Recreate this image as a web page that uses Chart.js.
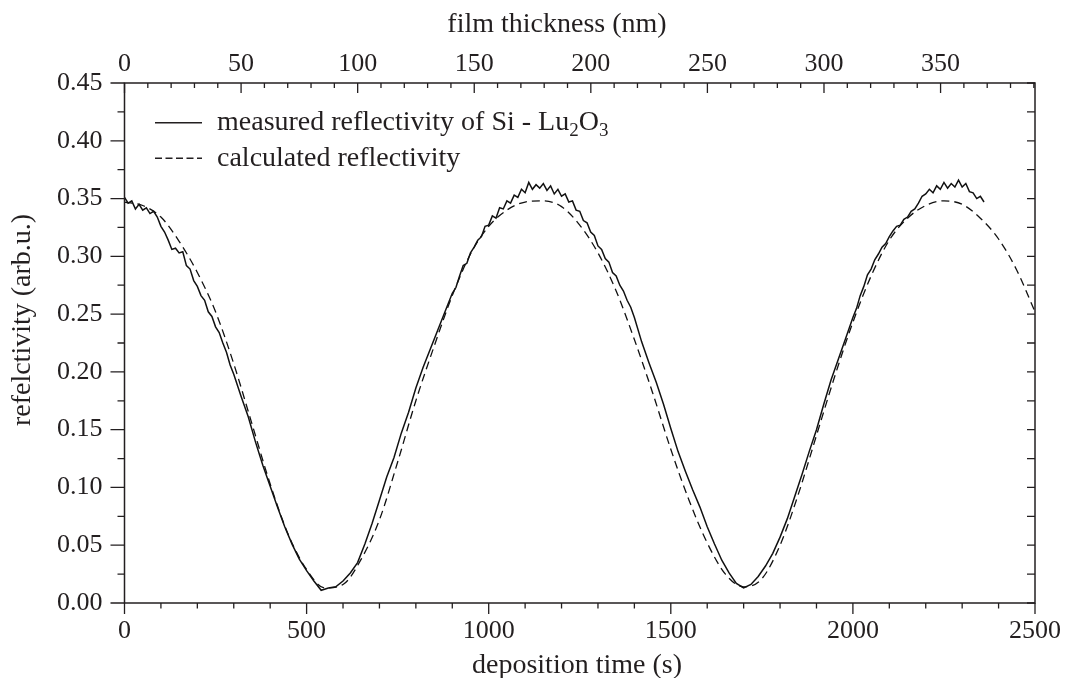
<!DOCTYPE html>
<html>
<head>
<meta charset="utf-8">
<script src="https://cdn.jsdelivr.net/npm/chart.js@4.4.0/dist/chart.umd.min.js"></script>
<style>
html, body { margin: 0; padding: 0; background: #fff; }
#wrap { width: 1069px; height: 678px; }
</style>
</head>
<body>
<div id="wrap"><canvas id="reflChart" width="1069" height="678"></canvas></div>
<script>
// measured reflectivity (deposition time in s) - finer steps where the signal is noisy
const timeMeasured = [
    0, 10, 20, 30, 40, 50, 60, 70, 80, 90, 100, 110, 120, 130, 140, 150, 160, 170, 180, 190,
    200, 210, 220, 230, 240, 250, 260, 270, 280, 290, 300,
    320, 340, 360, 380, 400, 420, 440, 460, 480, 500, 520, 540, 560, 580, 600, 620, 640, 660, 680,
    700, 720, 740, 760, 780, 800, 820, 840, 860, 880,
    900, 910, 920, 930, 940, 950, 960, 970, 980, 990, 1000, 1010, 1020, 1030, 1040, 1050, 1060, 1070, 1080, 1090,
    1100, 1110, 1120, 1130, 1140, 1150, 1160, 1170, 1180, 1190, 1200, 1210, 1220, 1230, 1240, 1250, 1260, 1270, 1280, 1290,
    1300, 1310, 1320, 1330, 1340, 1350, 1360, 1370, 1380, 1390, 1400,
    1420, 1440, 1460, 1480, 1500, 1520, 1540, 1560, 1580, 1600, 1620, 1640, 1660, 1680, 1700, 1720, 1740, 1760, 1780,
    1800, 1820, 1840, 1860, 1880, 1900, 1920, 1940, 1960, 1980,
    2000, 2010, 2020, 2030, 2040, 2050, 2060, 2070, 2080, 2090, 2100, 2110, 2120, 2130, 2140, 2150, 2160, 2170, 2180, 2190,
    2200, 2210, 2220, 2230, 2240, 2250, 2260, 2270, 2280, 2290, 2300, 2310, 2320, 2330, 2340, 2350, 2360];
const reflMeasured = [
    0.351, 0.346, 0.348, 0.341, 0.345, 0.340, 0.342, 0.337, 0.339, 0.334, 0.326, 0.321, 0.314, 0.306, 0.307, 0.303, 0.304, 0.292, 0.289, 0.279,
    0.274, 0.266, 0.262, 0.252, 0.248, 0.239, 0.234, 0.225, 0.217, 0.206, 0.198,
    0.179, 0.161, 0.139, 0.119, 0.101, 0.083, 0.066, 0.051, 0.038, 0.028, 0.019, 0.011, 0.013, 0.014, 0.019, 0.026, 0.035, 0.051, 0.069,
    0.089, 0.109, 0.126, 0.147, 0.165, 0.186, 0.204, 0.220, 0.236, 0.252,
    0.268, 0.273, 0.283, 0.292, 0.294, 0.303, 0.308, 0.314, 0.317, 0.326, 0.327, 0.335, 0.333, 0.342, 0.341, 0.348, 0.346, 0.353, 0.351, 0.358,
    0.355, 0.364, 0.358, 0.362, 0.359, 0.363, 0.357, 0.361, 0.354, 0.358, 0.352, 0.354, 0.347, 0.348, 0.340, 0.339, 0.331, 0.329, 0.321, 0.318,
    0.309, 0.306, 0.298, 0.295, 0.286, 0.283, 0.275, 0.270, 0.262, 0.256, 0.247,
    0.226, 0.208, 0.191, 0.172, 0.151, 0.131, 0.114, 0.098, 0.083, 0.066, 0.051, 0.037, 0.026, 0.017, 0.013, 0.016, 0.023, 0.032, 0.043,
    0.057, 0.073, 0.092, 0.111, 0.131, 0.150, 0.172, 0.193, 0.211, 0.229,
    0.247, 0.255, 0.266, 0.274, 0.284, 0.289, 0.297, 0.302, 0.308, 0.311, 0.317, 0.322, 0.326, 0.327, 0.332, 0.334, 0.339, 0.341, 0.346, 0.352,
    0.354, 0.358, 0.355, 0.361, 0.358, 0.364, 0.359, 0.363, 0.360, 0.366, 0.360, 0.363, 0.356, 0.355, 0.350, 0.352, 0.347];

// calculated reflectivity
const timeCalc = [0, 50, 100, 150, 200, 250, 300, 350, 400, 450, 500, 550, 600, 650, 700, 750, 800, 850, 900, 950,
    1000, 1050, 1100, 1150, 1200, 1250, 1300, 1350, 1400, 1450, 1500, 1550, 1600, 1650, 1700, 1750, 1800, 1850, 1900, 1950,
    2000, 2050, 2100, 2150, 2200, 2250, 2300, 2350, 2400, 2450, 2500];
const reflCalc = [0.347, 0.344, 0.334, 0.313, 0.286, 0.252, 0.207, 0.155, 0.103, 0.059, 0.029, 0.013, 0.016, 0.038, 0.072, 0.122, 0.175, 0.222, 0.266, 0.302,
    0.326, 0.340, 0.347, 0.348, 0.343, 0.327, 0.303, 0.270, 0.228, 0.182, 0.133, 0.089, 0.052, 0.025, 0.014, 0.021, 0.050, 0.094, 0.145, 0.196,
    0.243, 0.283, 0.314, 0.333, 0.344, 0.348, 0.345, 0.333, 0.315, 0.288, 0.252];

// axis ticks
const timeTicks = [0, 500, 1000, 1500, 2000, 2500];
const thicknessTicks = [0, 50, 100, 150, 200, 250, 300, 350];
const reflTicks = [0, 0.05, 0.10, 0.15, 0.20, 0.25, 0.30, 0.35, 0.40, 0.45];
const thicknessMax = 390.5; // nm at 2500 s

const INK = '#231f20';
const SERIF = "'Liberation Serif', 'Times New Roman', serif";
const tickFont = { family: SERIF, size: 26 };

// frame, minor ticks, axis titles and legend
const framePlugin = {
    id: 'frame',
    afterDraw(chart) {
        const c = chart.ctx;
        const a = chart.chartArea;
        const sx = chart.scales.x, sx2 = chart.scales.x2, sy = chart.scales.y;
        c.save();
        c.strokeStyle = INK;
        c.fillStyle = INK;
        c.lineWidth = 1.5;
        c.strokeRect(a.left, a.top, a.right - a.left, a.bottom - a.top);

        c.lineWidth = 1.3;
        c.beginPath();
        // left (outside) + right (inside)
        for (let i = 0; i <= 18; i++) {
            const py = sy.getPixelForValue(i * 0.025);
            const len = i % 2 === 0 ? 14 : 7;
            c.moveTo(a.left, py); c.lineTo(a.left - len, py);
            c.moveTo(a.right, py); c.lineTo(a.right - 8, py);
        }
        // bottom (outside)
        for (let i = 0; i <= 25; i++) {
            const px = sx.getPixelForValue(i * 100);
            const len = i % 5 === 0 ? 11 : 5.5;
            c.moveTo(px, a.bottom); c.lineTo(px, a.bottom + len);
        }
        // top (inside)
        for (let i = 0; i * 10 <= thicknessMax; i++) {
            const px = sx2.getPixelForValue(i * 10);
            const len = i % 5 === 0 ? 10 : 5;
            c.moveTo(px, a.top); c.lineTo(px, a.top + len);
        }
        c.stroke();

        // axis titles
        c.font = '28px ' + SERIF;
        c.textBaseline = 'alphabetic';
        c.textAlign = 'center';
        c.fillText('film thickness (nm)', 557, 32);
        c.fillText('deposition time (s)', 577, 673);
        c.save();
        c.translate(30, 320);
        c.rotate(-Math.PI / 2);
        c.fillText('refelctivity (arb.u.)', 0, 0);
        c.restore();

        // legend
        const lx0 = 155, lx1 = 202, tx = 217;
        c.lineWidth = 1.4;
        c.beginPath();
        c.moveTo(lx0, 122.7); c.lineTo(lx1, 122.7);
        c.stroke();
        c.setLineDash([7, 3.5]);
        c.beginPath();
        c.moveTo(lx0, 158.3); c.lineTo(lx1, 158.3);
        c.stroke();
        c.setLineDash([]);

        c.textAlign = 'left';
        let x = tx;
        const put = (txt, size, dy) => {
            c.font = size + 'px ' + SERIF;
            c.fillText(txt, x, 130 + dy);
            x += c.measureText(txt).width;
        };
        put('measured reflectivity of Si - Lu', 28, 0);
        put('2', 19, 6);
        put('O', 28, 0);
        put('3', 19, 6);
        c.font = '28px ' + SERIF;
        c.fillText('calculated reflectivity', tx, 165.5);
        c.restore();
    }
};

const noGrid = { display: false, drawTicks: false, tickLength: 0 };

new Chart(document.getElementById('reflChart').getContext('2d'), {
    type: 'line',
    data: {
        datasets: [
            {
                label: 'measured reflectivity of Si - Lu2O3',
                data: timeMeasured.map((t, i) => ({ x: t, y: reflMeasured[i] })),
                borderColor: '#111',
                borderWidth: 1.5,
                pointRadius: 0,
                tension: 0
            },
            {
                label: 'calculated reflectivity',
                data: timeCalc.map((t, i) => ({ x: t, y: reflCalc[i] })),
                borderColor: '#111',
                borderWidth: 1.3,
                borderDash: [8, 5],
                pointRadius: 0,
                cubicInterpolationMode: 'monotone'
            }
        ]
    },
    options: {
        responsive: false,
        animation: false,
        devicePixelRatio: 1,
        layout: { padding: { left: 0, right: 34, top: 0, bottom: 0 } },
        plugins: { legend: { display: false }, tooltip: { enabled: false } },
        scales: {
            x: {
                type: 'linear', position: 'bottom', min: 0, max: 2500,
                afterBuildTicks: s => { s.ticks = timeTicks.map(v => ({ value: v })); },
                afterFit: s => { s.height = 75; },
                grid: noGrid, border: { display: false },
                // small padding keeps the right edge at 2500; taller line box pushes labels down instead
                ticks: { font: { family: SERIF, size: 26, lineHeight: 1.585 }, color: INK, padding: 8, maxRotation: 0, autoSkip: false, callback: v => String(v) }
            },
            x2: {
                type: 'linear', position: 'top', min: 0, max: thicknessMax,
                afterBuildTicks: s => { s.ticks = thicknessTicks.map(v => ({ value: v })); },
                afterFit: s => { s.height = 83; },
                grid: noGrid, border: { display: false },
                ticks: { font: tickFont, color: INK, padding: 3, maxRotation: 0, autoSkip: false, callback: v => String(v) }
            },
            y: {
                type: 'linear', position: 'left', min: 0, max: 0.45,
                afterBuildTicks: s => { s.ticks = reflTicks.map(v => ({ value: v })); },
                afterFit: s => { s.width = 124.5; },
                grid: noGrid, border: { display: false },
                ticks: { font: tickFont, color: INK, padding: 22, autoSkip: false, callback: v => v.toFixed(2) }
            }
        }
    },
    plugins: [framePlugin]
});
</script>
</body>
</html>
